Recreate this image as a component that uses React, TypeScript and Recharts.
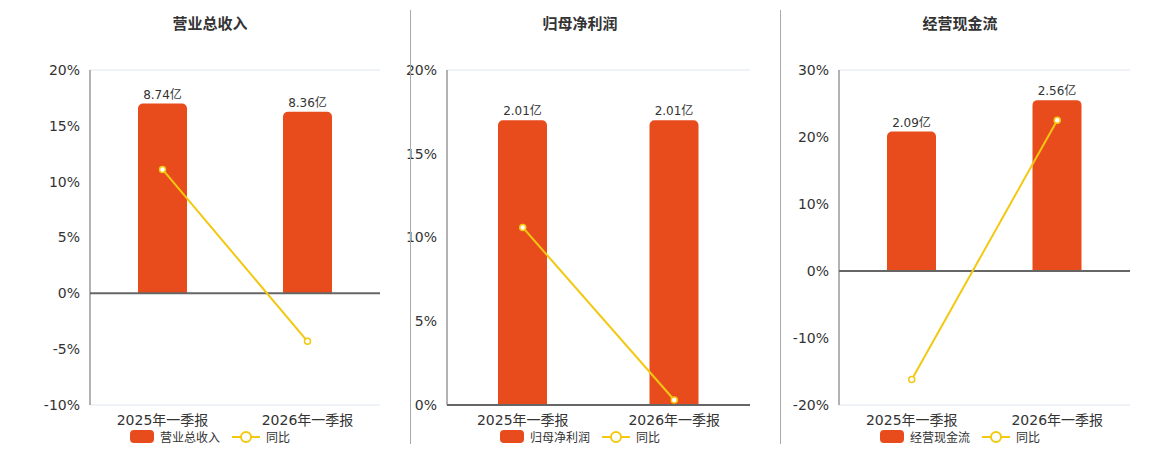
import React from "react";
import {
  ComposedChart,
  Bar,
  Line,
  XAxis,
  YAxis,
  CartesianGrid,
  ReferenceLine,
  LabelList,
} from "recharts";

const categories = ["2025年一季报", "2026年一季报"];

const revenueValues = [8.74, 8.36];
const revenueYoy = [11.1, -4.3];
const revenueTicks = [-10, -5, 0, 5, 10, 15, 20];

const profitValues = [2.01, 2.01];
const profitYoy = [10.6, 0.3];
const profitTicks = [0, 5, 10, 15, 20];

const cashValues = [2.09, 2.56];
const cashYoy = [-16.2, 22.5];
const cashTicks = [-20, -10, 0, 10, 20, 30];

const BAR_COLOR = "#E84B1C";
const LINE_COLOR = "#F2C811";
const FONT = "'DejaVu Sans', 'Noto Sans CJK SC', sans-serif";

type PanelProps = {
  title: string;
  values: number[];
  yoy: number[];
  ticks: number[];
  left: number;
  width: number;
  axisWidth: number;
  center: number;
};

function Panel({ title, values, yoy, ticks, left, width, axisWidth, center }: PanelProps) {
  const data = categories.map((name, i) => ({ name, value: values[i], yoy: yoy[i] }));
  const tMin = ticks[0];
  const tMax = ticks[ticks.length - 1];
  // hidden axis for amounts, zero aligned with the 0% line
  const top = Math.max(...values) / 0.85;
  const bottom = (top * tMin) / tMax;

  return (
    <>
      <div
        style={{
          position: "absolute",
          left: center - 100,
          top: 12,
          width: 200,
          textAlign: "center",
          fontFamily: FONT,
          fontSize: 15,
          fontWeight: "bold",
          color: "#333",
        }}
      >
        {title}
      </div>
      <div style={{ position: "absolute", left, top: 0 }}>
        <ComposedChart
          width={width}
          height={450}
          data={data}
          margin={{ top: 70, right: 30, bottom: 25, left: 0 }}
          style={{ fontFamily: FONT }}
        >
          <CartesianGrid vertical={false} stroke="#dfe5f0" />
          <XAxis
            dataKey="name"
            axisLine={false}
            tickLine={false}
            height={20}
            tick={{ fontSize: 14, fill: "#333" }}
            tickMargin={4}
          />
          <YAxis
            yAxisId="pct"
            width={axisWidth}
            domain={[tMin, tMax]}
            ticks={ticks}
            tickFormatter={(v) => `${v}%`}
            tick={{ fontSize: 14, fill: "#333" }}
            tickLine={false}
            axisLine={{ stroke: "#666" }}
            tickMargin={4}
          />
          <YAxis yAxisId="amt" orientation="right" hide domain={[bottom, top]} />
          <ReferenceLine yAxisId="pct" y={0} stroke="#666" strokeWidth={2} />
          <Bar
            yAxisId="amt"
            dataKey="value"
            fill={BAR_COLOR}
            barSize={49}
            radius={[5, 5, 0, 0]}
            isAnimationActive={false}
          >
            <LabelList
              dataKey="value"
              position="top"
              offset={5}
              formatter={(v: number) => `${v.toFixed(2)}亿`}
              style={{ fontSize: 12, fill: "#333" }}
            />
          </Bar>
          <Line
            yAxisId="pct"
            dataKey="yoy"
            stroke={LINE_COLOR}
            strokeWidth={2}
            dot={{ r: 3, fill: "#fff", stroke: LINE_COLOR, strokeWidth: 1.5 }}
            isAnimationActive={false}
          />
        </ComposedChart>
      </div>
      <div
        style={{
          position: "absolute",
          left: center - 100,
          top: 428,
          width: 200,
          display: "flex",
          justifyContent: "center",
          alignItems: "center",
          fontFamily: FONT,
          fontSize: 12,
          color: "#333",
        }}
      >
        <span
          style={{ width: 24, height: 13, background: BAR_COLOR, borderRadius: 4, marginRight: 6 }}
        />
        <span style={{ marginRight: 12 }}>{title}</span>
        <svg width={28} height={14} style={{ marginRight: 6 }}>
          <line x1={0} y1={7} x2={28} y2={7} stroke={LINE_COLOR} strokeWidth={2} />
          <circle cx={14} cy={7} r={5} fill="#fff" stroke={LINE_COLOR} strokeWidth={2} />
        </svg>
        <span>同比</span>
      </div>
    </>
  );
}

export default function App() {
  return (
    <div
      style={{
        position: "absolute",
        left: 0,
        top: 0,
        width: 1160,
        height: 450,
        background: "#fff",
      }}
    >
      <Panel
        title="营业总收入"
        values={revenueValues}
        yoy={revenueYoy}
        ticks={revenueTicks}
        left={0}
        width={410}
        axisWidth={90}
        center={210}
      />
      <Panel
        title="归母净利润"
        values={profitValues}
        yoy={profitYoy}
        ticks={profitTicks}
        left={398}
        width={382}
        axisWidth={49}
        center={580}
      />
      <Panel
        title="经营现金流"
        values={cashValues}
        yoy={cashYoy}
        ticks={cashTicks}
        left={780}
        width={380}
        axisWidth={59}
        center={960}
      />
      <div style={{ position: "absolute", left: 410, top: 10, width: 1, height: 434, background: "#aaa" }} />
      <div style={{ position: "absolute", left: 780, top: 10, width: 1, height: 434, background: "#aaa" }} />
    </div>
  );
}
